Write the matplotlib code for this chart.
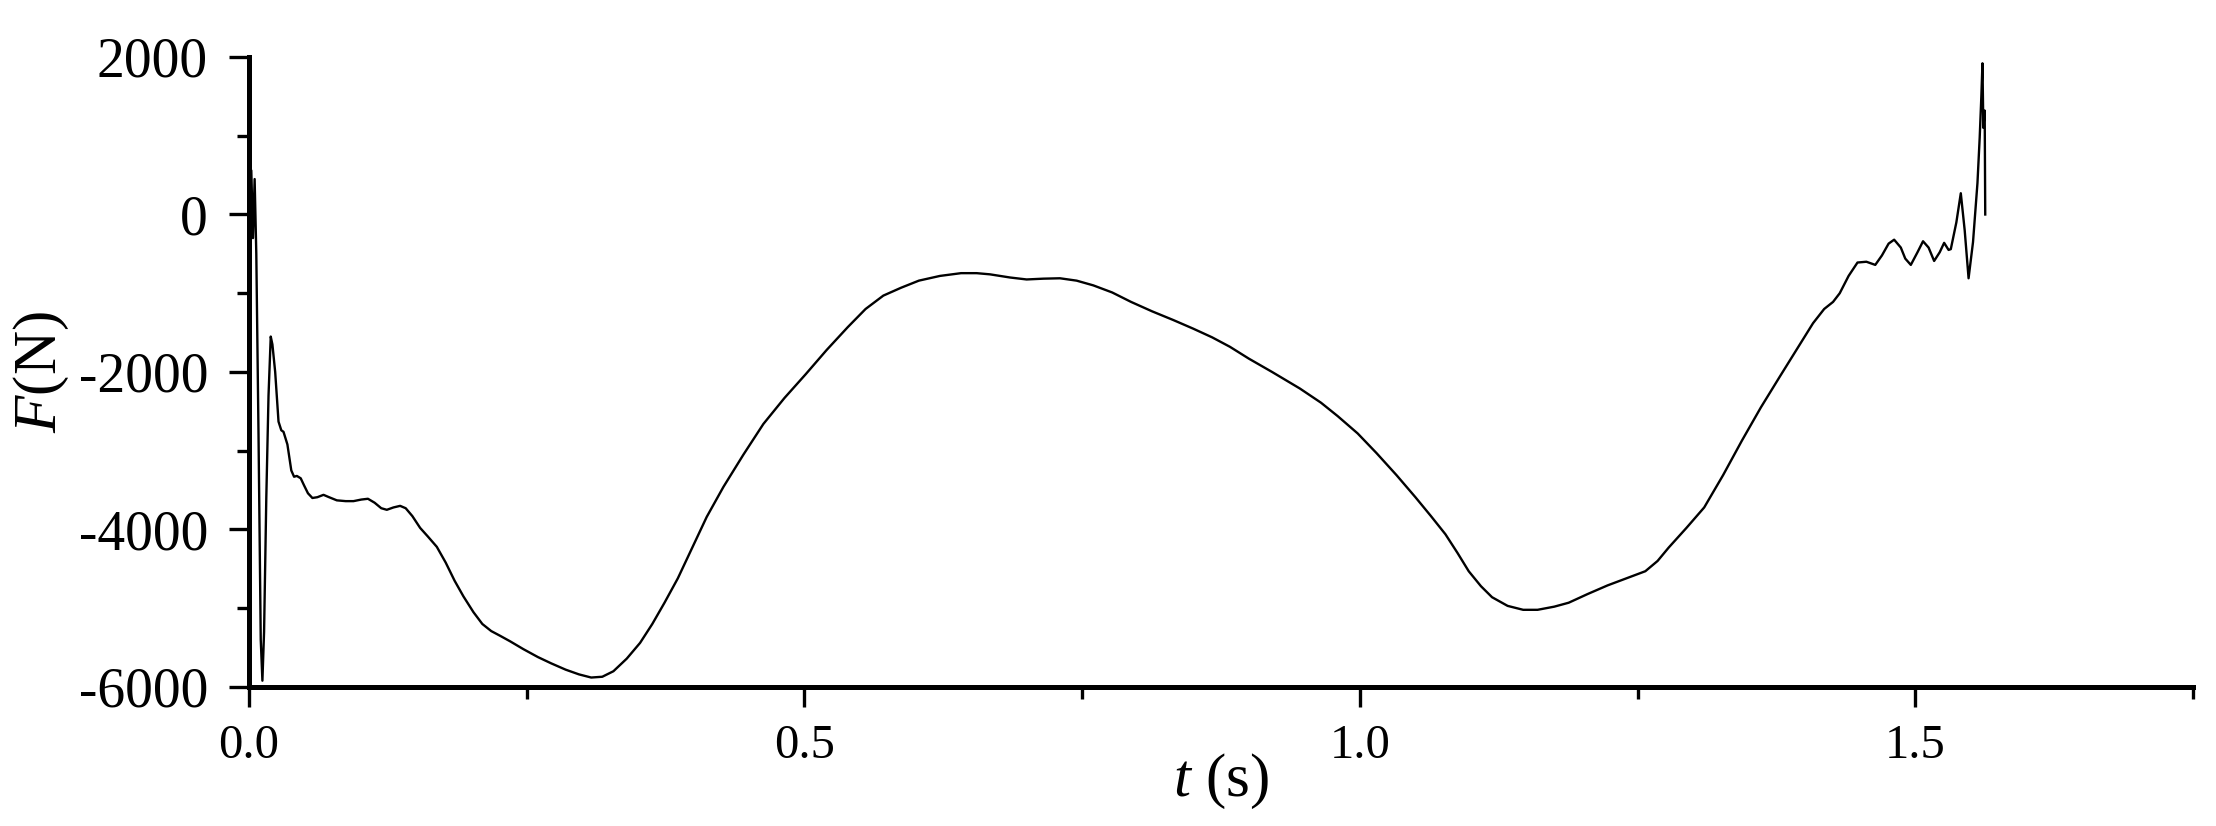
import matplotlib
matplotlib.use("Agg")
import matplotlib.pyplot as plt
from matplotlib.ticker import MultipleLocator, FormatStrFormatter

plt.rcParams['font.family'] = ['Liberation Serif', 'DejaVu Serif']
plt.rcParams['mathtext.fontset'] = 'custom'
plt.rcParams['mathtext.it'] = 'Liberation Serif:italic'
plt.rcParams['mathtext.rm'] = 'Liberation Serif'
plt.rcParams['axes.unicode_minus'] = False

# time (s)
t = [0.0, 0.002, 0.0035, 0.005, 0.0065, 0.0085, 0.0105, 0.012, 0.0135, 0.0155,
     0.0175, 0.0195, 0.021, 0.0235, 0.0265, 0.029, 0.031, 0.0345, 0.038, 0.0405,
     0.043, 0.0465, 0.0495, 0.053, 0.057, 0.0615, 0.067, 0.072, 0.079, 0.087,
     0.094, 0.101, 0.107, 0.113, 0.119, 0.124, 0.130, 0.136, 0.141, 0.147,
     0.154, 0.161, 0.169, 0.177, 0.185, 0.193, 0.202, 0.210, 0.218, 0.226,
     0.235, 0.247, 0.260, 0.272, 0.285, 0.297, 0.308, 0.318, 0.328, 0.340,
     0.352, 0.363, 0.374, 0.386, 0.399, 0.412, 0.427, 0.445, 0.463, 0.482,
     0.501, 0.520, 0.539, 0.555, 0.571, 0.587, 0.603, 0.622, 0.641, 0.655,
     0.667, 0.685, 0.700, 0.715, 0.730, 0.745, 0.760, 0.777, 0.794, 0.813,
     0.832, 0.850, 0.867, 0.883, 0.900, 0.921, 0.946, 0.965, 0.980, 0.998,
     1.015, 1.033, 1.050, 1.064, 1.077, 1.088, 1.098, 1.109, 1.119, 1.133,
     1.147, 1.160, 1.175, 1.188, 1.205, 1.223, 1.240, 1.257, 1.268, 1.278,
     1.294, 1.310, 1.327, 1.344, 1.361, 1.378, 1.393, 1.408, 1.418, 1.426,
     1.432, 1.440, 1.448, 1.456, 1.464, 1.470, 1.476, 1.481, 1.487, 1.491,
     1.496, 1.502, 1.507, 1.512, 1.517, 1.522, 1.526, 1.530, 1.532, 1.537,
     1.541, 1.5445, 1.548, 1.552, 1.556, 1.558, 1.5595, 1.5605, 1.5613, 1.5625,
     1.5630]

# force (N)
F = [0, 560, -300, 450, -500, -2800, -5400, -5920, -5300, -3600,
     -2300, -1550, -1650, -2000, -2630, -2740, -2760, -2920, -3250, -3330,
     -3320, -3350, -3440, -3540, -3600, -3590, -3560, -3590, -3630, -3640,
     -3640, -3620, -3610, -3660, -3730, -3750, -3720, -3700, -3730, -3830,
     -3980, -4090, -4220, -4420, -4650, -4850, -5050, -5200, -5290, -5350,
     -5420, -5520, -5620, -5700, -5780, -5840, -5880, -5870, -5800, -5640,
     -5440, -5200, -4930, -4620, -4230, -3840, -3460, -3050, -2660, -2330,
     -2030, -1720, -1430, -1200, -1030, -930, -840, -780, -745, -745,
     -760, -800, -825, -815, -810, -840, -900, -990, -1110, -1230,
     -1340, -1450, -1560, -1680, -1830, -2000, -2210, -2390, -2560, -2780,
     -3030, -3310, -3590, -3830, -4060, -4300, -4530, -4720, -4860, -4970,
     -5020, -5020, -4980, -4930, -4820, -4710, -4620, -4530, -4400, -4230,
     -3980, -3720, -3310, -2870, -2450, -2060, -1720, -1380, -1200, -1110,
     -1000, -780, -610, -600, -640, -520, -370, -320, -420, -560,
     -640, -480, -340, -420, -590, -480, -360, -450, -440, -100,
     270, -200, -810, -350, 400, 974, 1500, 1920, 1100, 1320,
     0]

xticks = [0.0, 0.5, 1.0, 1.5]
yticks = [2000, 0, -2000, -4000, -6000]

fig = plt.figure(figsize=(22.16, 8.26), dpi=100)
ax = fig.add_axes([0.1124, 0.1683, 0.8772, 0.7627])

ax.plot(t, F, color='black', lw=1.7)

ax.set_xlim(0, 1.75)
ax.set_ylim(-6000, 2000)
ax.set_xticks(xticks)
ax.set_yticks(yticks)
ax.xaxis.set_minor_locator(MultipleLocator(0.25))
ax.yaxis.set_minor_locator(MultipleLocator(1000))
ax.xaxis.set_major_formatter(FormatStrFormatter('%.1f'))

for s in ['top', 'right']:
    ax.spines[s].set_visible(False)
for s in ['left', 'bottom']:
    ax.spines[s].set_linewidth(3.6)

ax.tick_params(which='major', direction='out', length=14.5, width=2.4)
ax.tick_params(which='minor', direction='out', length=8.5, width=2.4)
ax.tick_params(axis='y', which='major', labelsize=40, pad=15)
ax.tick_params(axis='x', which='major', labelsize=35, pad=12)

ax.set_xlabel(r'$t$ (s)', fontsize=44, va='center')
ax.xaxis.set_label_coords(0.5, -0.15)
ax.set_ylabel(r'$F$(N)', fontsize=44, va='center')
ax.yaxis.set_label_coords(-0.1067, 0.5)

fig.savefig('out.png', dpi=100)
